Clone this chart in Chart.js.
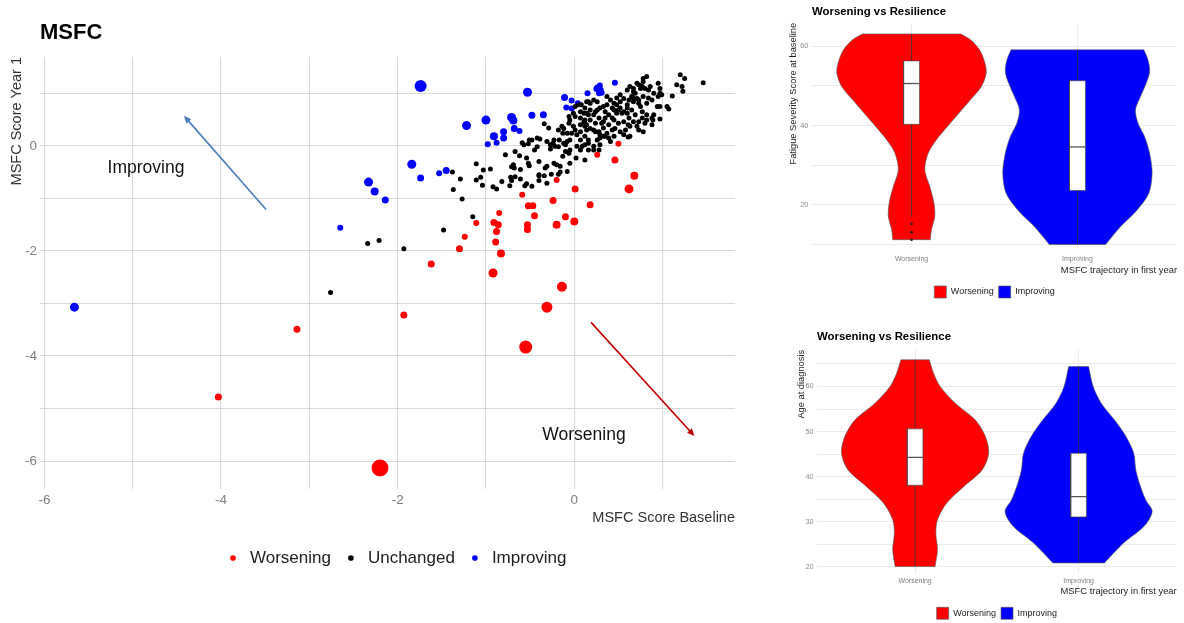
<!DOCTYPE html>
<html>
<head>
<meta charset="utf-8">
<title>MSFC trajectories</title>
<script src="https://cdn.jsdelivr.net/npm/chart.js@4.4.0/dist/chart.umd.min.js"></script>
<style>
  body { margin: 0; background: #fff; width: 1184px; height: 623px; overflow: hidden; position: relative; }
  canvas { position: absolute; }
</style>
</head>
<body>
<canvas id="msfc" width="745" height="590" style="left:0;top:0"></canvas>
<canvas id="fatigue" width="404" height="310" style="left:780px;top:0"></canvas>
<canvas id="age" width="404" height="310" style="left:780px;top:320px"></canvas>
<script>
// ---- MSFC scatter: baseline vs year 1 ----
const worseBaseline = [-0.59,-0.20,0.01,0.62,-0.24,-0.52,-0.47,0.18,-0.85,-0.45,-0.10,0.00,-0.20,-1.11,-0.91,-0.86,-0.53,-0.53,-0.88,-1.24,
  -0.89,-1.30,-0.83,-0.92,-0.14,0.50,0.26,0.46,0.68,-1.62,-0.31,-1.93,-0.55,-3.14,-4.03,-2.20];
const worseYear1 = [-0.93,-0.65,-0.82,-0.82,-1.04,-1.14,-1.14,-1.12,-1.28,-1.33,-1.35,-1.44,-1.50,-1.47,-1.46,-1.50,-1.50,-1.59,-1.63,-1.73,
  -1.83,-1.96,-2.05,-2.42,-2.68,0.04,-0.17,-0.27,-0.57,-2.25,-3.07,-3.22,-3.83,-3.49,-4.78,-6.13];
const worseChange = [1,1,1.5,2.5,1.5,1.5,1.5,1.5,1,1.5,1.5,2,2,1,1.5,1.5,1.5,1.5,1.5,1,
  1.5,1.5,2,2.5,3,1,1,1.5,2,1.5,3.5,1.5,4.5,1.5,1.5,6.5];

const sameBaseline = [-2.76,-2.34,-2.21,-1.93,-1.48,-1.15,-1.27,-1.37,-1.29,-1.38,
  -1.11,-1.11,-1.06,-1.04,-1.03,-0.95,-0.92,-0.88,-0.78,-0.67,
  -0.62,-0.59,-0.57,-0.69,-0.68,-0.72,-0.71,-0.67,-0.61,-0.54,
  -0.48,-0.54,-0.52,-0.51,-0.48,-0.42,-0.45,-0.42,-0.39,-0.34,
  -0.31,-0.29,-0.27,-0.24,-0.22,-0.23,-0.20,-0.16,-0.26,-0.18,
  -0.16,-0.34,-0.40,-0.18,-0.14,-0.13,-0.12,-0.08,-0.05,-0.13,
  -0.10,-0.06,-0.03,-0.01,0.01,0.03,-0.06,-0.05,-0.01,0.01,
  0.01,0.05,0.08,0.07,0.11,0.12,0.14,0.09,0.12,0.16,
  0.07,0.16,0.22,0.22,0.16,0.22,0.26,0.14,0.18,0.24,
  0.29,0.33,0.18,0.24,0.28,0.31,0.35,0.22,0.28,0.33,
  0.37,0.43,0.26,0.29,0.35,0.41,0.37,0.41,0.45,0.48,
  0.52,0.45,0.48,0.52,0.56,0.60,0.45,0.50,0.56,0.61,
  0.67,0.52,0.58,0.63,0.71,0.80,0.60,0.63,0.67,0.71,
  0.75,0.78,0.82,0.67,0.73,0.78,0.84,0.90,0.75,0.82,
  0.88,0.95,0.61,0.77,0.82,0.88,0.90,0.95,0.99,1.05,
  1.07,1.11,0.94,0.97,0.89,1.20,1.25,1.16,1.22,1.23,
  1.46,0.67,0.69,0.65,0.71,0.62,0.67,0.73,0.60,0.56,
  0.52,0.48,0.43,0.50,0.54,0.60,0.65,0.69,0.62,0.43,
  0.39,0.35,0.37,0.26,0.22,0.33,0.39,0.46,0.63,0.73,
  0.77,0.82,0.97,0.88,0.78,0.73,0.56,0.45,0.39,0.33,
  0.29,0.24,0.18,0.14,0.07,0.16,0.12,0.18,0.14,0.07,
  0.07,0.16,0.12,0.29,0.28,0.07,0.78,0.73,0.77,0.80,
  0.84,0.86,0.97,0.97,-0.31,-0.23,-0.17,-0.12,-0.06,-0.08,
  0.11,0.12,-0.52,-0.27,-0.18,-0.10,-0.05,0.03,-0.71,-0.82,
  -0.73,-0.61,-0.51,-0.40,-0.40,-0.33,-0.08,-0.05,0.02,0.12,
  -0.56,-0.40,-0.31];
const sameYear1 = [-2.79,-1.86,-1.80,-1.96,-1.60,-1.35,-1.01,-0.83,-0.63,-0.50,
  -0.34,-0.65,-0.60,-0.75,-0.46,-0.44,-0.78,-0.82,-0.17,-0.11,
  -0.19,0.06,0.02,-0.36,-0.42,-0.60,-0.66,-0.59,-0.63,-0.72,
  -0.77,-0.23,-0.33,0.11,0.11,0.15,-0.08,-0.02,0.13,0.42,
  -0.39,0.34,0.02,0.05,-0.01,-0.33,-0.36,-0.39,-0.54,-0.54,
  -0.50,-0.57,-0.57,0.30,0.37,0.24,0.05,0.08,0.11,-0.20,
  -0.11,-0.14,0.24,0.37,0.30,0.21,0.56,0.49,0.62,0.56,
  0.75,0.78,0.78,0.40,0.46,0.37,0.30,-0.01,0.02,0.05,
  -0.08,-0.08,-0.01,-0.08,0.84,0.87,0.84,0.62,0.68,0.65,
  0.72,0.75,0.49,0.43,0.53,0.43,0.53,0.30,0.27,0.34,
  0.24,0.30,0.11,0.15,0.18,0.08,0.94,0.87,0.81,0.91,
  0.97,0.68,0.62,0.72,0.65,0.72,0.49,0.43,0.46,0.40,
  0.46,0.27,0.30,0.18,0.37,0.43,1.06,1.13,1.03,1.19,
  1.09,1.22,1.32,0.91,0.87,0.94,0.91,1.00,0.75,0.81,
  0.87,1.19,0.17,0.65,0.49,0.53,0.59,0.94,0.97,0.75,
  0.70,0.95,0.75,0.51,0.49,1.35,1.28,1.16,1.13,1.04,
  1.20,1.09,1.00,0.94,0.90,0.87,0.84,0.81,0.78,0.90,
  0.84,0.78,0.72,0.68,0.62,0.62,0.68,0.59,0.53,0.53,
  0.59,0.65,0.78,0.68,0.59,0.46,0.40,0.33,0.37,0.46,
  0.53,0.59,0.75,0.40,0.27,0.30,0.21,0.18,0.15,0.18,
  0.21,0.27,0.33,0.40,0.53,0.59,0.72,0.81,0.84,0.65,
  0.11,0.11,0.18,0.02,-0.08,0.27,1.28,1.16,1.13,1.09,
  1.06,1.13,1.09,1.00,0.08,0.11,0.11,0.33,0.43,0.24,
  0.62,0.49,0.04,-0.06,-0.02,0.02,-0.08,-0.01,-0.40,-0.68,
  -0.76,-0.45,-0.38,-0.30,-0.55,-0.42,-0.49,-0.33,-0.23,-0.27,
  -0.76,-0.66,-0.71];

const betterBaseline = [-1.74,-0.53,-1.22,-1.00,-0.71,-0.69,-0.48,-0.35,-0.91,-0.80,
  -0.80,-0.88,-0.98,-0.68,-0.62,-0.11,-0.03,-0.09,-0.03,0.04,
  0.15,0.46,0.26,0.29,0.30,0.28,0.25,0.31,-1.84,-1.74,
  -1.53,-1.45,-2.33,-2.26,-2.14,-2.65,-5.66];
const betterYear1 = [1.14,1.02,0.385,0.49,0.54,0.48,0.58,0.59,0.18,0.27,
  0.15,0.06,0.03,0.33,0.28,0.92,0.86,0.73,0.71,0.81,
  1.00,1.20,1.11,1.15,1.06,1.00,1.08,1.01,-0.35,-0.61,
  -0.52,-0.47,-0.69,-0.87,-1.03,-1.56,-3.07];
const betterChange = [4,2.5,2.5,2.5,2.5,2,1.5,1.5,2,1.5,
  1.5,1,1,1.5,1,1.5,1,1,1,1,
  1,1,1,1,1,1,1,1,2.5,1.5,
  1,1.5,2.5,2,1.5,1,2.5];

const msfcGroups = ['Worsening', 'Unchanged', 'Improving'];
const msfcTickLabels = [-6, -4, -2, 0];

// arrows + captions, in data units
const trendArrows = [
  {from: [-3.49, -1.21], to: [-4.42, 0.57], color: '#4a7ebb'},
  {from: [0.19, -3.36], to: [1.36, -5.52], color: '#c00000'}
];
const trendCaptions = [
  {text: 'Improving', at: [-4.85, -0.42]},
  {text: 'Worsening', at: [0.11, -5.50]}
];

// ---- violin data ----
const trajCategories = ['Worsening', 'Improving'];

const fatigueWorseLevels = [11.2, 13.7, 17.1, 20.4, 24.6, 28.8, 33.0, 36.4, 39.7, 43.1, 46.5, 49.8, 53.2, 56.1, 59.1, 61.6, 63.1];
const fatigueWorseWidth  = [0.113, 0.12, 0.14, 0.135, 0.11, 0.08, 0.10, 0.15, 0.215, 0.285, 0.355, 0.42, 0.45, 0.44, 0.41, 0.357, 0.296];
const fatigueBetterLevels = [10, 14.5, 18.7, 22.9, 28, 33, 37.2, 40.6, 44, 47.3, 50.7, 53.6, 56.6, 59.1];
const fatigueBetterWidth  = [0.17, 0.26, 0.36, 0.43, 0.45, 0.435, 0.405, 0.365, 0.35, 0.38, 0.415, 0.435, 0.425, 0.40];
// lower whisker, q1, median, q3, upper whisker
const fatigueWorseBox = [17, 40.3, 50.6, 56.3, 63.1];
const fatigueBetterBox = [10, 23.6, 34.6, 51.3, 59.1];
const fatigueWorseOutliers = [15.2, 13.1, 11.2];

const ageWorseLevels = [20.1, 23.8, 27.5, 30.5, 34.2, 37.9, 41.5, 45.2, 48.9, 52.6, 56.3, 60.0, 63.0, 65.9];
const ageWorseWidth  = [0.122, 0.137, 0.127, 0.137, 0.194, 0.30, 0.41, 0.45, 0.43, 0.367, 0.245, 0.153, 0.112, 0.087];
const ageBetterLevels = [20.9, 25.3, 29, 32.3, 34.9, 37.9, 41.5, 45.2, 48.9, 52.6, 56.3, 60, 64.4];
const ageBetterWidth  = [0.158, 0.275, 0.40, 0.45, 0.41, 0.378, 0.35, 0.337, 0.29, 0.219, 0.138, 0.089, 0.061];
const ageWorseBox = [20.1, 38.1, 44.3, 50.6, 65.9];
const ageBetterBox = [20.9, 31.1, 35.6, 45.2, 64.4];

Chart.defaults.font.family = '"Liberation Sans", Arial, sans-serif';
Chart.defaults.animation = false;

function points(xs, ys) {
  return xs.map((x, i) => ({x: x, y: ys[i]}));
}

const trendNotes = {
  id: 'trendNotes',
  afterDatasetsDraw(chart) {
    const ctx = chart.ctx, sx = chart.scales.x, sy = chart.scales.y;
    ctx.save();
    trendArrows.forEach(a => {
      const x0 = sx.getPixelForValue(a.from[0]), y0 = sy.getPixelForValue(a.from[1]);
      const x1 = sx.getPixelForValue(a.to[0]), y1 = sy.getPixelForValue(a.to[1]);
      const ang = Math.atan2(y1 - y0, x1 - x0);
      ctx.strokeStyle = a.color;
      ctx.fillStyle = a.color;
      ctx.lineWidth = 1.6;
      ctx.beginPath();
      ctx.moveTo(x0, y0);
      ctx.lineTo(x1 - 5 * Math.cos(ang), y1 - 5 * Math.sin(ang));
      ctx.stroke();
      ctx.beginPath();
      ctx.moveTo(x1, y1);
      ctx.lineTo(x1 - 8 * Math.cos(ang - 0.42), y1 - 8 * Math.sin(ang - 0.42));
      ctx.lineTo(x1 - 8 * Math.cos(ang + 0.42), y1 - 8 * Math.sin(ang + 0.42));
      ctx.closePath();
      ctx.fill();
    });
    ctx.font = '17.5px "Liberation Sans", Arial, sans-serif';
    ctx.fillStyle = '#111';
    ctx.textAlign = 'center';
    ctx.textBaseline = 'middle';
    trendCaptions.forEach(c => ctx.fillText(c.text, sx.getPixelForValue(c.at[0]), sy.getPixelForValue(c.at[1])));
    ctx.restore();
  }
};

// legend sits a little right of the panel centre in the original
const legendNudge = {
  id: 'legendNudge',
  afterLayout(chart) { chart.legend.left += 16; }
};

const gridStyle = {color: '#d9d9d9', lineWidth: 1.1, drawTicks: false};

new Chart(document.getElementById('msfc'), {
  type: 'scatter',
  data: {
    datasets: [
      {label: msfcGroups[0], data: points(worseBaseline, worseYear1), backgroundColor: '#ff0000',
       pointRadius: worseChange.map(c => 2 + c), pointBorderWidth: 0},
      {label: msfcGroups[1], data: points(sameBaseline, sameYear1), backgroundColor: '#000000',
       pointRadius: 2.5, pointBorderWidth: 0},
      {label: msfcGroups[2], data: points(betterBaseline, betterYear1), backgroundColor: '#0000ff',
       pointRadius: betterChange.map(c => 2 + c), pointBorderWidth: 0}
    ]
  },
  options: {
    responsive: false,
    devicePixelRatio: 1,
    events: [],
    layout: {padding: {top: 0, right: 10, bottom: 13.5, left: 0}},
    scales: {
      x: {
        min: -6.05, max: 1.82,
        afterFit: s => { s.height = 49; },
        border: {display: false},
        grid: gridStyle,
        ticks: {stepSize: 1, includeBounds: false, autoSkip: false, maxRotation: 0, padding: 3,
                color: '#7f7f7f', font: {size: 13.5},
                callback: v => msfcTickLabels.includes(v) ? String(v) : ''},
        title: {display: true, text: 'MSFC Score Baseline', align: 'end', color: '#333',
                font: {size: 14.5}, padding: {top: 0, bottom: 11}}
      },
      y: {
        min: -6.53, max: 1.69,
        afterFit: s => { s.width = 40; },
        border: {display: false},
        grid: gridStyle,
        ticks: {stepSize: 1, includeBounds: false, autoSkip: false, padding: 3,
                color: '#7f7f7f', font: {size: 13.5},
                callback: v => msfcTickLabels.includes(v) ? String(v) : ''},
        title: {display: true, text: 'MSFC Score Year 1', align: 'end', color: '#333',
                font: {size: 14.5}, padding: {top: 8, bottom: 0}}
      }
    },
    plugins: {
      title: {display: true, text: 'MSFC', align: 'start', fullSize: false, color: '#000',
              font: {size: 22, weight: 'bold'}, padding: {top: 20, bottom: 10.6}},
      legend: {position: 'bottom', fullSize: false,
               labels: {usePointStyle: true, pointStyle: 'circle', boxWidth: 17, boxHeight: 4,
                        padding: 11.5, color: '#222', font: {size: 17}}},
      tooltip: {enabled: false}
    }
  },
  plugins: [trendNotes, legendNudge]
});

// ---- violins ----
const BOX_HALF = 0.048;

// corner points are doubled so the flat top and bottom stay flat under tension
function violinOutline(center, levels, widths) {
  const left = levels.map((y, i) => ({x: center - widths[i], y: y}));
  const right = levels.map((y, i) => ({x: center + widths[i], y: y})).reverse();
  const n = left.length;
  return [left[0]].concat(left, [left[n - 1]], [right[0]], right, [right[n - 1], left[0]]);
}
function boxOutline(center, stats) {
  return [
    {x: center - BOX_HALF, y: stats[1]}, {x: center + BOX_HALF, y: stats[1]},
    {x: center + BOX_HALF, y: stats[3]}, {x: center - BOX_HALF, y: stats[3]},
    {x: center - BOX_HALF, y: stats[1]}
  ];
}
function whiskerLine(center, stats) {
  return [{x: center, y: stats[0]}, {x: center, y: stats[4]}];
}
function medianLine(center, stats) {
  return [{x: center - BOX_HALF, y: stats[2]}, {x: center + BOX_HALF, y: stats[2]}];
}

function violinChart(id, v) {
  const line = {showLine: true, pointRadius: 0, tension: 0};
  new Chart(document.getElementById(id), {
    type: 'scatter',
    data: {
      datasets: [
        Object.assign({}, line, {label: trajCategories[0], data: violinOutline(1, v.worseLevels, v.worseWidth),
          fill: 'shape', backgroundColor: '#ff0000', borderColor: '#555', borderWidth: 0.6, tension: 0.3, order: 4}),
        Object.assign({}, line, {label: trajCategories[1], data: violinOutline(2, v.betterLevels, v.betterWidth),
          fill: 'shape', backgroundColor: '#0000ff', borderColor: '#555', borderWidth: 0.6, tension: 0.3, order: 4}),
        Object.assign({}, line, {label: '', data: whiskerLine(1, v.worseBox), borderColor: '#333', borderWidth: 0.8, order: 3}),
        Object.assign({}, line, {label: '', data: whiskerLine(2, v.betterBox), borderColor: '#333', borderWidth: 0.8, order: 3}),
        Object.assign({}, line, {label: '', data: boxOutline(1, v.worseBox), fill: 'shape', backgroundColor: '#fff',
          borderColor: '#444', borderWidth: 0.6, order: 2}),
        Object.assign({}, line, {label: '', data: boxOutline(2, v.betterBox), fill: 'shape', backgroundColor: '#fff',
          borderColor: '#444', borderWidth: 0.6, order: 2}),
        Object.assign({}, line, {label: '', data: medianLine(1, v.worseBox), borderColor: '#555', borderWidth: 1.3, order: 1}),
        Object.assign({}, line, {label: '', data: medianLine(2, v.betterBox), borderColor: '#555', borderWidth: 1.3, order: 1}),
        {label: '', data: (v.outliers || []).map(y => ({x: 1, y: y})), pointRadius: 1.3,
         backgroundColor: '#222', pointBorderWidth: 0, order: 0}
      ]
    },
    options: {
      responsive: false,
      devicePixelRatio: 1,
      events: [],
      layout: {padding: {top: 0, right: v.padRight, bottom: v.padBottom, left: 0}},
      scales: {
        x: {
          min: 0.4, max: 2.6,
          afterFit: s => { s.height = v.xHeight; },
          border: {display: false},
          grid: {color: '#ebebeb', lineWidth: 1, drawTicks: false},
          ticks: {stepSize: 1, includeBounds: false, autoSkip: false, maxRotation: 0, padding: v.xTickPad,
                  color: '#7f7f7f', font: {size: 7},
                  callback: val => trajCategories[val - 1] || ''},
          title: {display: true, text: 'MSFC trajectory in first year', align: 'end', color: '#222',
                  font: {size: 9.4}, padding: {top: 0, bottom: v.xTitlePad}}
        },
        y: {
          min: v.yMin, max: v.yMax,
          afterFit: s => { s.width = v.yWidth; },
          border: {display: false},
          grid: {color: '#ebebeb', lineWidth: 1, drawTicks: false},
          ticks: {stepSize: v.yStep, includeBounds: false, autoSkip: false, padding: v.yTickPad,
                  color: '#8c8c8c', font: {size: 7.3},
                  callback: val => val % v.yLabelEvery === 0 ? String(val) : ''},
          title: {display: true, text: v.yTitle, align: 'end', color: '#222',
                  font: {size: 9.3}, padding: {top: v.yTitlePad, bottom: 0}}
        }
      },
      plugins: {
        title: {display: true, text: 'Worsening vs Resilience', align: 'start', fullSize: false, color: '#000',
                font: {size: 11.4, weight: 'bold'}, padding: {top: v.titleTop, bottom: v.titleBottom}},
        legend: {position: 'bottom', fullSize: false,
                 labels: {boxWidth: 12, boxHeight: 12, padding: 5, color: '#222', font: {size: 9},
                          filter: item => item.datasetIndex < 2}},
        tooltip: {enabled: false}
      }
    }
  });
}

violinChart('fatigue', {
  worseLevels: fatigueWorseLevels, worseWidth: fatigueWorseWidth,
  betterLevels: fatigueBetterLevels, betterWidth: fatigueBetterWidth,
  worseBox: fatigueWorseBox, betterBox: fatigueBetterBox, outliers: fatigueWorseOutliers,
  yTitle: 'Fatigue Severity Score at baseline', yMin: 9.1, yMax: 65.9, yStep: 10, yLabelEvery: 20,
  padRight: 7, padBottom: 2, xHeight: 33, xTickPad: 7, xTitlePad: 5.3,
  yWidth: 32, yTickPad: 3.7, yTitlePad: 8.3, titleTop: 5.1, titleBottom: 4.1
});

violinChart('age', {
  worseLevels: ageWorseLevels, worseWidth: ageWorseWidth,
  betterLevels: ageBetterLevels, betterWidth: ageBetterWidth,
  worseBox: ageWorseBox, betterBox: ageBetterBox,
  yTitle: 'Age at diagnosis', yMin: 18.6, yMax: 68.1, yStep: 5, yLabelEvery: 10,
  padRight: 7.3, padBottom: 0.7, xHeight: 29, xTickPad: 3.6, xTitlePad: 4.9,
  yWidth: 37, yTickPad: 3.5, yTitlePad: 16, titleTop: 10.4, titleBottom: 5.8
});
</script>
</body>
</html>
